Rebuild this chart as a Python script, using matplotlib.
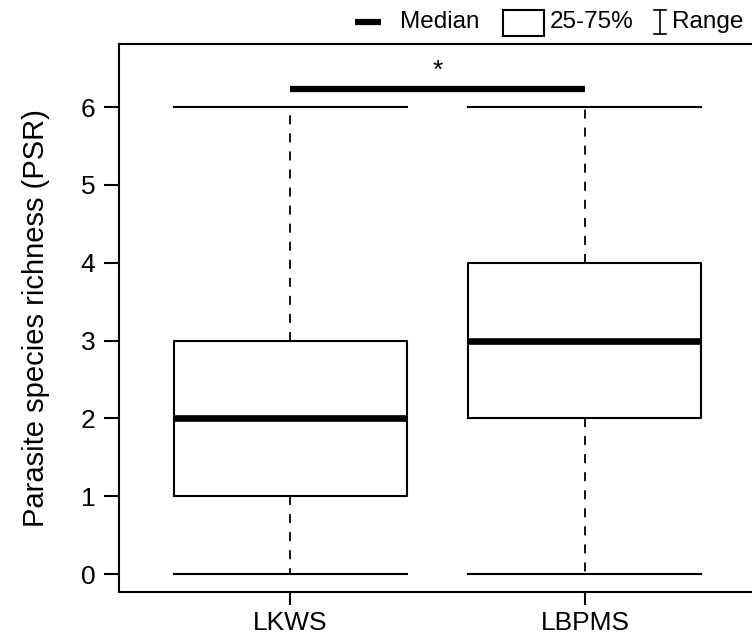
import matplotlib.pyplot as plt
from matplotlib.patches import Rectangle
from matplotlib.lines import Line2D

plt.rcParams['font.family'] = ['Liberation Sans', 'DejaVu Sans']

# box summary values
groups = ['LKWS', 'LBPMS']
medians = [2, 3]
q1 = [1, 2]
q3 = [3, 4]
mins = [0, 0]
maxs = [6, 6]
y_ticks = [0, 1, 2, 3, 4, 5, 6]
sig_level = 6.23
sig_text = '*'

stats = []
for i, g in enumerate(groups):
    stats.append({'label': g, 'med': medians[i], 'q1': q1[i], 'q3': q3[i],
                  'whislo': mins[i], 'whishi': maxs[i], 'fliers': []})

W, H = 752, 638
fig = plt.figure(figsize=(W / 100, H / 100), dpi=100)
ax = fig.add_axes([119 / W, 1 - 592 / H, (756 - 119) / W, (592 - 44) / H])

positions = list(range(1, len(groups) + 1))
ax.bxp(stats, positions=positions, widths=0.79, showfliers=False,
       boxprops=dict(color='black', linewidth=1.5),
       medianprops=dict(color='black', linewidth=4.8, solid_capstyle='butt'),
       whiskerprops=dict(color='black', linewidth=1.3, linestyle=(0, (5, 5))),
       capprops=dict(color='black', linewidth=1.5), capwidths=0.79)

ax.set_xlim(0.42, 2.58)
ax.set_ylim(-0.23, 6.81)
ax.set_yticks(y_ticks)
ax.set_xticks(positions)
ax.set_xticklabels(groups)
ax.tick_params(axis='both', labelsize=19, width=1.5, length=11, direction='out')
ax.tick_params(axis='y', pad=6)
ax.tick_params(axis='x', length=9, pad=5)
for s in ax.spines.values():
    s.set_linewidth(1.5)
ax.set_ylabel('Parasite species richness (PSR)', fontsize=21, labelpad=22)

# significance bar
ax.plot([positions[0], positions[1]], [sig_level, sig_level], color='black',
        linewidth=4.5, solid_capstyle='butt', clip_on=False)
ax.text((positions[0] + positions[1]) / 2, sig_level + 0.08, sig_text,
        ha='center', va='bottom', fontsize=19)

# legend drawn above the plot
yc = 1 - 22 / H
fig.add_artist(Line2D([355 / W, 381 / W], [yc, yc], color='black',
                      linewidth=4.5, solid_capstyle='butt'))
fig.text(400 / W, yc, 'Median', fontsize=17.5, va='center')
fig.add_artist(Rectangle((503 / W, 1 - 36 / H), 41 / W, 26 / H,
                         facecolor='white', edgecolor='black', linewidth=1.5))
fig.text(550 / W, yc, '25-75%', fontsize=17.5, va='center')
xi = 660
fig.add_artist(Line2D([xi / W, xi / W], [1 - 10 / H, 1 - 34 / H], color='black', linewidth=1.2))
fig.add_artist(Line2D([(xi - 6) / W, (xi + 6) / W], [1 - 10 / H] * 2, color='black', linewidth=1.2))
fig.add_artist(Line2D([(xi - 6) / W, (xi + 6) / W], [1 - 34 / H] * 2, color='black', linewidth=1.2))
fig.text(672 / W, yc, 'Range', fontsize=17.5, va='center')

fig.savefig('out.png', dpi=100)
